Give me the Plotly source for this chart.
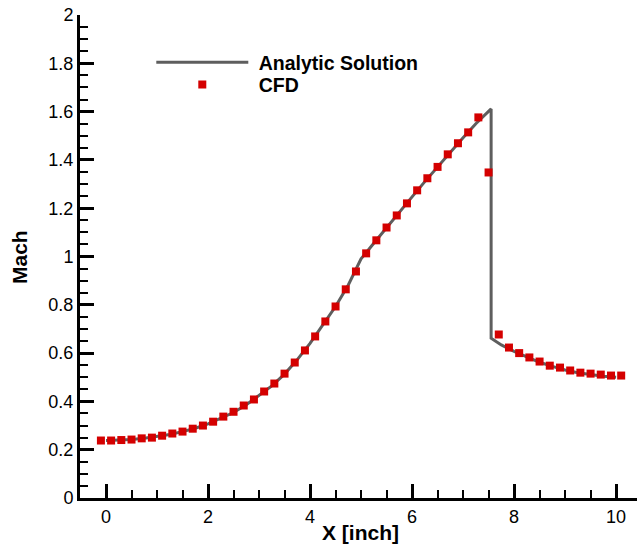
import plotly.graph_objects as go

# CFD data
cfd_x = [-0.1, 0.1, 0.3, 0.5, 0.7, 0.9, 1.1, 1.3, 1.5, 1.7, 1.9, 2.1, 2.3, 2.5, 2.7, 2.9,
         3.1, 3.3, 3.5, 3.7, 3.9, 4.1, 4.3, 4.5, 4.7, 4.9, 5.1, 5.3, 5.5, 5.7, 5.9, 6.1,
         6.3, 6.5, 6.7, 6.9, 7.1, 7.3, 7.5, 7.7, 7.9, 8.1, 8.3, 8.5, 8.7, 8.9, 9.1, 9.3,
         9.5, 9.7, 9.9, 10.1]
cfd_mach = [0.238, 0.238, 0.240, 0.242, 0.247, 0.250, 0.258, 0.267, 0.275, 0.287, 0.300, 0.316,
            0.337, 0.357, 0.383, 0.408, 0.441, 0.474, 0.515, 0.561, 0.611, 0.669, 0.731, 0.793,
            0.864, 0.938, 1.013, 1.067, 1.120, 1.170, 1.220, 1.274, 1.324, 1.371, 1.423, 1.469,
            1.514, 1.576, 1.348, 0.677, 0.623, 0.600, 0.582, 0.565, 0.548, 0.540, 0.528, 0.519,
            0.515, 0.511, 0.507, 0.507]

# Analytic solution
ana_x = [0.0, 0.25, 0.5, 0.75, 1.0, 1.25, 1.5, 1.75, 2.0, 2.25, 2.5, 2.75, 3.0, 3.25, 3.5,
         3.75, 4.0, 4.25, 4.5, 4.75, 5.0, 5.25, 5.5, 5.75, 6.0, 6.25, 6.5, 6.75, 7.0, 7.25,
         7.55, 7.55, 7.75, 8.0, 8.25, 8.5, 8.75, 9.0, 9.25, 9.5, 9.75, 10.0]
ana_mach = [0.238, 0.239, 0.242, 0.247, 0.254, 0.263, 0.275, 0.289, 0.307, 0.329, 0.354, 0.386,
            0.424, 0.464, 0.513, 0.573, 0.640, 0.715, 0.793, 0.882, 0.990, 1.055, 1.120, 1.183,
            1.247, 1.310, 1.371, 1.433, 1.492, 1.550, 1.611, 0.662, 0.634, 0.607, 0.584, 0.562,
            0.545, 0.530, 0.519, 0.510, 0.504, 0.500]

x_ticks = [0, 2, 4, 6, 8, 10]
y_ticks = [0, 0.2, 0.4, 0.6, 0.8, 1.0, 1.2, 1.4, 1.6, 1.8, 2.0]
y_tick_text = ["0", "0.2", "0.4", "0.6", "0.8", "1", "1.2", "1.4", "1.6", "1.8", "2"]
x_title = "X [inch]"
y_title = "Mach"
series_names = ["Analytic Solution", "CFD"]

FONT = "Arial, Liberation Sans, sans-serif"

fig = go.Figure()
fig.add_trace(go.Scatter(x=ana_x, y=ana_mach, mode="lines", name="\u00a0" + series_names[0],
                         line=dict(color="#5e5e5e", width=3), legend="legend"))
fig.add_trace(go.Scatter(x=cfd_x, y=cfd_mach, mode="markers", name="\u00a0" + series_names[1],
                         marker=dict(symbol="square", size=8, color="#d40000",
                                     line=dict(width=0)), legend="legend2"))

axis_common = dict(showgrid=False, zeroline=False, showline=True, linecolor="black",
                   linewidth=3, ticks="inside", tickcolor="black", tickwidth=3,
                   ticklen=14, automargin=False,
                   tickfont=dict(family=FONT, size=18, color="black"))

fig.update_xaxes(range=[-0.51, 10.41], tickvals=x_ticks, **axis_common,
                 minor=dict(ticks="inside", dtick=0.5, ticklen=8, tickwidth=1.5,
                            tickcolor="black", showgrid=False))
fig.update_yaxes(range=[0, 2], tickvals=y_ticks, ticktext=y_tick_text, **axis_common,
                 minor=dict(ticks="inside", dtick=0.05, ticklen=8, tickwidth=1.5,
                            tickcolor="black", showgrid=False))

fig.add_annotation(text="<b>" + x_title + "</b>", xref="paper", yref="paper",
                   x=0.503, y=-0.0704, xanchor="center", yanchor="middle", showarrow=False,
                   font=dict(family=FONT, size=21, color="black"))
fig.add_annotation(text="<b>" + y_title + "</b>", xref="paper", yref="paper",
                   x=-0.1077, y=0.499, xanchor="center", yanchor="middle", showarrow=False,
                   textangle=-90, font=dict(family=FONT, size=21, color="black"))

legend_common = dict(x=0.128, xanchor="left", yanchor="top", itemwidth=92,
                     bgcolor="rgba(0,0,0,0)",
                     font=dict(family=FONT, size=19.5, color="black", weight="bold"))

fig.update_layout(
    width=637, height=547,
    margin=dict(l=80, r=0, t=15, b=49),
    plot_bgcolor="white", paper_bgcolor="white",
    showlegend=True,
    legend=dict(y=0.942, **legend_common),
    legend2=dict(y=0.896, **legend_common),
)

fig.write_html("out.html", config={"displayModeBar": False},
               post_script="document.body.style.margin='0';")
